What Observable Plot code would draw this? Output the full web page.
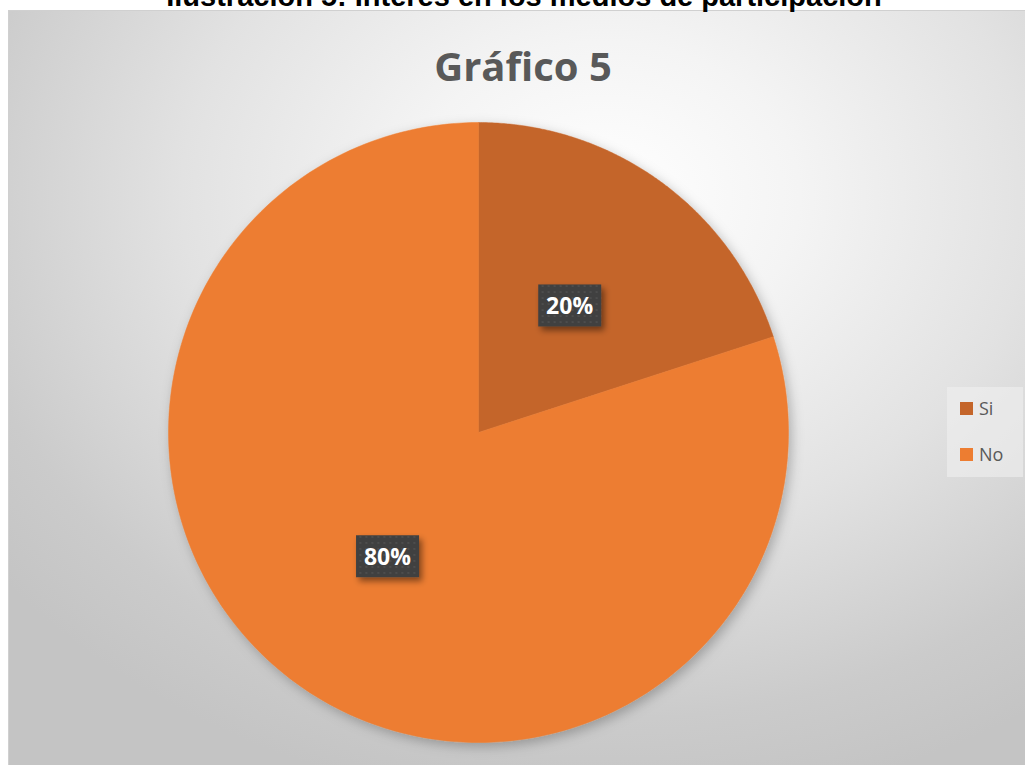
<!DOCTYPE html>
<html>
<head>
<meta charset="utf-8">
<script src="https://cdn.jsdelivr.net/npm/d3@7"></script>
<script src="https://cdn.jsdelivr.net/npm/@observablehq/plot@0.6"></script>
<style>
  html, body { margin: 0; padding: 0; background: #fff; overflow: hidden; }
  #wrap { position: relative; width: 1025px; height: 765px; overflow: hidden; }
  #caption { position: absolute; left: 0; width: 1048px; top: -18px; text-align: center; line-height: 29px;
    font-family: "Liberation Sans", Arial, sans-serif; font-weight: bold; font-size: 29px; color: #000; white-space: nowrap; }
  #area { position: absolute; left: 8px; top: 10px; width: 1030px; height: 770px;
    border: 1px solid #d0d0d0;
    background: radial-gradient(ellipse 75% 80% at 58% 24%, #ffffff 0%, #f4f4f4 25%, #e2e2e2 55%, #cbcbcb 85%, #c4c4c4 100%); }
  #chart { position: absolute; left: 0; top: 0; }
  #title { position: absolute; left: 0; width: 1046px; top: 38px; text-align: center;
    font: bold 40px "Open Sans", Calibri, sans-serif; color: #595959; }
  #legend { position: absolute; left: 947px; top: 387px; width: 76px; height: 90px;
    background: rgba(240,240,240,0.6); font: 18px "Open Sans", sans-serif; color: #595959; }
  .li { position: absolute; left: 13px; display: flex; align-items: center; }
  .sw { width: 13px; height: 13px; margin-right: 6px; }
</style>
</head>
<body>
<div id="wrap">
  <div id="area"></div>
  <div id="caption"></div>
  <div id="chart"></div>
  <div id="title"></div>
  <div id="legend"></div>
</div>
<script>
const captionText = "Ilustración 5: Interés en los medios de participación";
const titleText = "Gráfico 5";
const categories = ["Si", "No"];
const values = [20, 80];
const labels = ["20%", "80%"];
const colors = ["#C4652A", "#ED7D31"];

document.getElementById("caption").textContent = captionText;
document.getElementById("title").textContent = titleText;

// pie geometry from data
const pie = d3.pie().sort(null).value(d => d.value)(categories.map((c, i) => ({cat: c, value: values[i], label: labels[i]})));
const poly = [];
pie.forEach(s => {
  poly.push({cat: s.data.cat, x: 0, y: 0});
  const n = 200;
  for (let k = 0; k <= n; k++) {
    const a = s.startAngle + (s.endAngle - s.startAngle) * k / n;
    poly.push({cat: s.data.cat, x: Math.sin(a), y: Math.cos(a)});
  }
  poly.push({cat: s.data.cat, x: 0, y: 0});
});
const lab = pie.map(s => {
  const a = (s.startAngle + s.endAngle) / 2;
  return {cat: s.data.cat, label: s.data.label, x: 0.5 * Math.sin(a), y: 0.5 * Math.cos(a)};
});

const W = 1025, H = 765, cx = 478, cy = 432, R = 310;
const plot = Plot.plot({
  width: W, height: H,
  margin: 0,
  style: {background: "transparent", overflow: "visible"},
  x: {domain: [-cx / R, (W - cx) / R], range: [0, W], axis: null},
  y: {domain: [-(H - cy) / R, cy / R], range: [H, 0], axis: null},
  color: {domain: categories, range: colors},
  marks: [
    Plot.line(poly, {x: "x", y: "y", z: "cat", fill: "cat", stroke: "cat", strokeWidth: 0.5, curve: "linear", className: "slices"}),
    Plot.text(lab, {x: "x", y: "y", text: "label", fill: "white", fontSize: 23, fontWeight: "bold",
      fontFamily: "'Open Sans', sans-serif", className: "labs"})
  ]
});
document.getElementById("chart").appendChild(plot);

const svg = d3.select(plot);
const defs = svg.insert("defs", ":first-child");
const f = defs.append("filter").attr("id", "sh").attr("x", "-20%").attr("y", "-20%").attr("width", "140%").attr("height", "140%");
f.append("feDropShadow").attr("dx", 3).attr("dy", 4).attr("stdDeviation", 6).attr("flood-color", "#000").attr("flood-opacity", 0.25);
const f2 = defs.append("filter").attr("id", "sh2").attr("x", "-30%").attr("y", "-30%").attr("width", "160%").attr("height", "160%");
f2.append("feDropShadow").attr("dx", 3).attr("dy", 4).attr("stdDeviation", 3).attr("flood-color", "#000").attr("flood-opacity", 0.45);
const pat = defs.append("pattern").attr("id", "dots").attr("width", 6).attr("height", 6).attr("patternUnits", "userSpaceOnUse");
pat.append("rect").attr("width", 6).attr("height", 6).attr("fill", "#404040");
pat.append("rect").attr("x", 2).attr("y", 2).attr("width", 2).attr("height", 2).attr("fill", "#4d4d4d");
svg.select(".slices").attr("filter", "url(#sh)");

svg.selectAll(".labs text").each(function() {
  const bb = this.getBBox();
  const w = 63, h = 42;
  const mx = bb.x + bb.width / 2, my = bb.y + bb.height / 2;
  const tr = this.getAttribute("transform") || "";
  d3.select(this.parentNode).insert("rect", () => this)
    .attr("transform", tr)
    .attr("x", mx - w / 2).attr("y", my - h / 2).attr("width", w).attr("height", h)
    .attr("fill", "url(#dots)").attr("filter", "url(#sh2)");
});

const lg = d3.select("#legend");
categories.forEach((c, i) => {
  const it = lg.append("div").attr("class", "li").style("top", (i === 0 ? 9 : 55) + "px");
  it.append("div").attr("class", "sw").style("background", colors[i]);
  it.append("span").text(c);
});
</script>
</body>
</html>
